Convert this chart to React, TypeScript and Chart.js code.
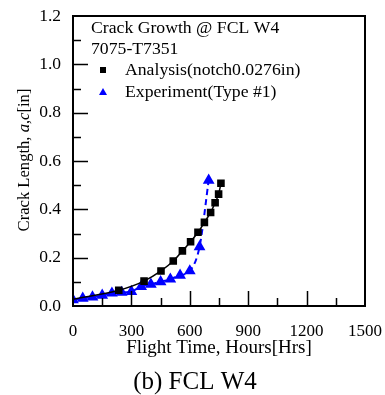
import React, { useEffect, useRef } from "react";
import { Chart, registerables } from "chart.js";

Chart.register(...registerables);

const analysisHours = [0, 235, 365, 452, 515, 562, 604, 642, 675, 707, 730, 748, 760];
const analysisCrack = [0.028, 0.065, 0.103, 0.145, 0.186, 0.228, 0.266, 0.305, 0.346, 0.387, 0.427, 0.463, 0.508];
const analysisMarker = [0, 1, 1, 1, 1, 1, 1, 1, 1, 1, 1, 1, 1];

const experimentHours = [0, 50, 100, 150, 200, 250, 300, 350, 400, 450, 500, 550, 600, 650, 697];
const experimentCrack = [0.025, 0.032, 0.037, 0.044, 0.053, 0.056, 0.06, 0.08, 0.09, 0.1, 0.111, 0.127, 0.145, 0.245, 0.52];

const yTicks = [0, 0.2, 0.4, 0.6, 0.8, 1.0, 1.2];
const xTicks = [0, 300, 600, 900, 1200, 1500];

const legendTitle = ["Crack Growth @ FCL W4", "7075-T7351"];
const seriesNames = ["Analysis(notch0.0276in)", "Experiment(Type #1)"];
const xTitle = "Flight Time, Hours[Hrs]";
const caption = "(b) FCL W4";

const SERIF = "'Liberation Serif', 'Times New Roman', serif";
const BLUE = "#0000ff";

const decorPlugin = {
  id: "decor",
  afterDraw(chart: any) {
    const { ctx, chartArea } = chart;
    const xs = chart.scales.x;
    const ys = chart.scales.y;
    const { left, right, top, bottom } = chartArea;
    ctx.save();
    // frame
    ctx.strokeStyle = "#000";
    ctx.lineWidth = 2;
    ctx.strokeRect(left, top, right - left, bottom - top);
    // inner ticks
    ctx.lineWidth = 1.5;
    ctx.beginPath();
    for (let v = 0.1; v < 1.2 - 1e-6; v += 0.1) {
      const y = Math.round(ys.getPixelForValue(v)) + 0.5;
      const major = Math.round(v * 10) % 2 === 0;
      ctx.moveTo(left, y);
      ctx.lineTo(left + (major ? 15 : 8), y);
    }
    for (let v = 150; v < 1500; v += 150) {
      const x = Math.round(xs.getPixelForValue(v)) + 0.5;
      const major = v % 300 === 0;
      ctx.moveTo(x, bottom);
      ctx.lineTo(x, bottom - (major ? 15 : 8));
    }
    ctx.stroke();

    // legend text
    ctx.fillStyle = "#000";
    ctx.textBaseline = "middle";
    ctx.textAlign = "left";
    ctx.font = `17.7px ${SERIF}`;
    ctx.fillText(legendTitle[0], 91, 28);
    ctx.fillText(legendTitle[1], 91, 49);
    ctx.fillText(seriesNames[0], 125, 70);
    ctx.fillText(seriesNames[1], 125, 92);
    // legend markers
    ctx.fillStyle = "#000";
    ctx.fillRect(100, 67, 6, 6);
    ctx.fillStyle = BLUE;
    ctx.beginPath();
    ctx.moveTo(103, 88);
    ctx.lineTo(107, 95);
    ctx.lineTo(99, 95);
    ctx.closePath();
    ctx.fill();

    // x title
    ctx.fillStyle = "#000";
    ctx.textAlign = "center";
    ctx.font = `19px ${SERIF}`;
    ctx.fillText(xTitle, (left + right) / 2, 348);
    // caption
    ctx.font = `25px ${SERIF}`;
    ctx.fillText(caption, 195, 382);

    // y title, rotated with italic a,c
    ctx.translate(25, 160);
    ctx.rotate(-Math.PI / 2);
    const parts: [string, boolean][] = [
      ["Crack Length, ", false],
      ["a", true],
      [",", false],
      ["c", true],
      ["[in]", false],
    ];
    let total = 0;
    const widths: number[] = [];
    for (const [t, it] of parts) {
      ctx.font = `${it ? "italic " : ""}16.6px ${SERIF}`;
      const w = ctx.measureText(t).width;
      widths.push(w);
      total += w;
    }
    let cx = -total / 2;
    ctx.textAlign = "left";
    parts.forEach(([t, it], i) => {
      ctx.font = `${it ? "italic " : ""}16.6px ${SERIF}`;
      ctx.fillText(t, cx, 0);
      cx += widths[i];
    });
    ctx.restore();
  },
};

const zeroPad = (s: any) => {
  s.paddingLeft = 0;
  s.paddingRight = 0;
  s.paddingTop = 0;
  s.paddingBottom = 0;
};

export default function App() {
  const ref = useRef<HTMLCanvasElement | null>(null);
  useEffect(() => {
    if (!ref.current) return;
    const chart = new Chart(ref.current, {
      type: "line",
      data: {
        datasets: [
          {
            label: seriesNames[0],
            data: analysisHours.map((h, i) => ({ x: h, y: analysisCrack[i] })),
            borderColor: "#000",
            backgroundColor: "#000",
            borderWidth: 1.5,
            pointStyle: "rect",
            pointRadius: analysisMarker.map((m) => (m ? 4.3 : 0)),
            cubicInterpolationMode: "monotone",
            fill: false,
          },
          {
            label: seriesNames[1],
            data: experimentHours.map((h, i) => ({ x: h, y: experimentCrack[i] })),
            borderColor: BLUE,
            backgroundColor: BLUE,
            borderWidth: 2,
            borderDash: [6, 4],
            pointStyle: "triangle",
            pointRadius: 4.8,
            cubicInterpolationMode: "monotone",
            fill: false,
          },
        ],
      },
      options: {
        responsive: false,
        animation: false,
        layout: { padding: { left: 0, top: 16, right: 20, bottom: 0 } },
        plugins: { legend: { display: false }, tooltip: { enabled: false }, title: { display: false } },
        scales: {
          x: {
            type: "linear",
            min: 0,
            max: 1500,
            grid: { display: false, drawTicks: false },
            border: { display: false },
            afterFit: (s: any) => {
              s.height = 89;
              zeroPad(s);
            },
            afterBuildTicks: (s: any) => {
              s.ticks = xTicks.map((v) => ({ value: v }));
            },
            ticks: {
              padding: 15,
              color: "#000",
              font: { family: SERIF, size: 17 },
              maxRotation: 0,
              callback: (v: any) => String(v),
            },
          },
          y: {
            type: "linear",
            min: 0,
            max: 1.2,
            grid: { display: false, drawTicks: false },
            border: { display: false },
            afterFit: (s: any) => {
              s.width = 73;
              zeroPad(s);
            },
            afterBuildTicks: (s: any) => {
              s.ticks = yTicks.map((v) => ({ value: v }));
            },
            ticks: {
              padding: 12,
              color: "#000",
              font: { family: SERIF, size: 17.5 },
              callback: (v: any) => Number(v).toFixed(1),
            },
          },
        },
      },
      plugins: [decorPlugin],
    } as any);
    return () => chart.destroy();
  }, []);
  return (
    <div style={{ position: "fixed", left: 0, top: 0, width: 385, height: 395, background: "#fff" }}>
      <canvas ref={ref} width={385} height={395} style={{ display: "block" }} />
    </div>
  );
}
